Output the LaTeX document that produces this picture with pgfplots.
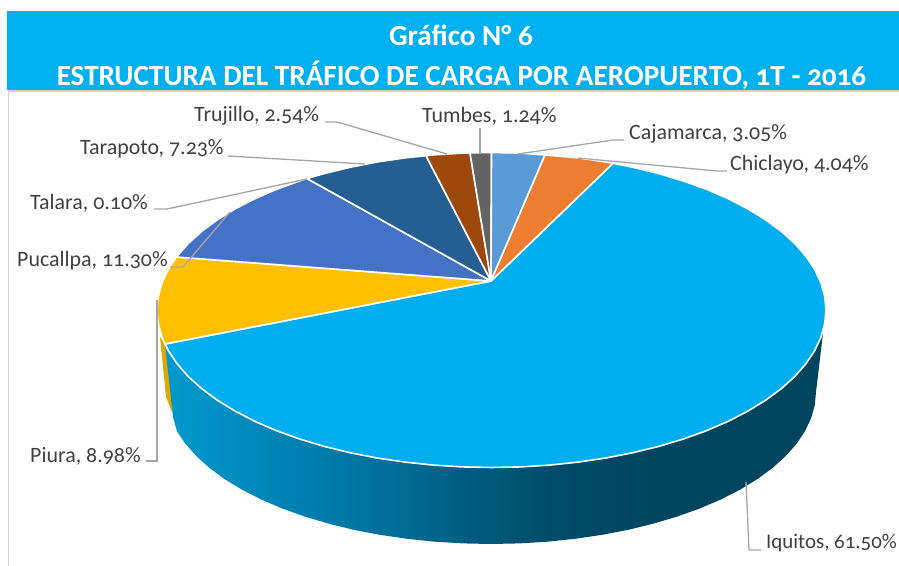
\documentclass[border=0pt]{standalone}
\usepackage{fontspec}
\setmainfont[Numbers=OldStyle]{Carlito}
\usepackage{pgfplots}
\pgfplotsset{compat=1.18}
\definecolor{Banner}{HTML}{00B0F0}
\definecolor{Leader}{HTML}{A6A6A6}
\definecolor{Lbl}{HTML}{404040}
\definecolor{Iquitos}{HTML}{00AEEF}
\definecolor{Cajamarca}{HTML}{5B9BD5}
\definecolor{Chiclayo}{HTML}{ED7D31}
\definecolor{Piura}{HTML}{FFC000}
\definecolor{PiuraSide}{HTML}{E0A800}
\definecolor{Pucallpa}{HTML}{4472C4}
\definecolor{Tarapoto}{HTML}{255E91}
\definecolor{Trujillo}{HTML}{9E480E}
\definecolor{Tumbes}{HTML}{636363}
\pgfdeclarehorizontalshading{wall}{100bp}{rgb(0bp)=(0,0.6,0.8); rgb(25bp)=(0,0.6,0.8); rgb(35.3bp)=(0,0.5,0.69); rgb(42.9bp)=(0,0.424,0.584); rgb(50.5bp)=(0,0.333,0.459); rgb(54.3bp)=(0,0.298,0.42); rgb(61.9bp)=(0,0.27,0.376); rgb(100bp)=(0,0.27,0.376)}
\tikzset{
  slice/.style={draw=white,line width=1.6bp,line join=round},
  leader/.style={draw=Leader,line width=1.3bp},
  lab/.style={inner sep=0pt,text=Lbl,font=\fontsize{22}{24}\selectfont},
  ttl/.style={inner sep=0pt,text=white,font=\fontsize{29.3}{32}\selectfont\bfseries}
}
\begin{document}
\begin{tikzpicture}
\useasboundingbox (0,0) rectangle (899bp,566bp);
\begin{axis}[
  at={(0,0)},anchor=south west,
  scale only axis,width=899bp,height=566bp,
  xmin=0,xmax=899,ymin=0,ymax=566,y dir=reverse,
  hide axis,clip=false
]
% banner and frame
\addplot[draw=none,fill=Banner] coordinates {(7,11) (899,11) (899,90) (7,90)} -- cycle;
\addplot[draw=black!18,line width=1.2bp] coordinates {(8.5,566) (8.5,91) (899,91)};
% side wall
\addplot[draw=none,fill=PiuraSide] coordinates {(160,337) (166,397) (172,412) (175,350) (165,344)} -- cycle;
\addplot[draw=none,shade,shading=wall] coordinates {
  (823,333) (816,392) (814.8,405.2) (811,418.4) (804.9,431.3) (796.4,444) (785.5,456.2) (772.5,468)
  (757.2,479.2) (740,489.7) (720.8,499.5) (699.9,508.4) (677.4,516.5) (653.5,523.6) (628.3,529.8)
  (602.2,534.8) (575.1,538.8) (547.4,541.7) (519.3,543.4) (491,544) (462.7,543.4) (434.6,541.7)
  (406.9,538.8) (379.8,534.8) (353.7,529.8) (328.5,523.6) (304.6,516.5) (282.1,508.4) (261.2,499.5)
  (242,489.7) (224.8,479.2) (209.5,468) (196.5,456.2) (185.6,444) (177,431.3) (173,417)
  (165,344) (300,380) (491,400) (700,400)} -- cycle;
% top slices
\addplot[slice,fill=Iquitos] coordinates {
  (491,281) (613,163.3) (632.9,167.3) (658.8,173.6) (683.4,181) (706.5,189.3) (728,198.6)
  (747.7,208.8) (765.5,219.7) (781.2,231.25) (794.7,243.4) (805.8,256.1) (814.6,269.2)
  (820.9,282.7) (824.7,296.3) (826,310) (824.7,323.7) (820.9,337.3) (814.6,350.8) (805.8,363.9)
  (794.7,376.6) (781.2,388.75) (765.5,400.3) (747.7,411.2) (728,421.4) (706.5,430.7) (683.4,439)
  (658.8,446.4) (632.9,452.7) (605.9,458) (578.1,462.1) (549.6,465.1) (520.7,466.9) (491.5,467.5)
  (462.3,466.9) (433.4,465.1) (404.9,462.1) (377.1,458) (350.1,452.7) (324.2,446.4) (299.6,439)
  (276.5,430.7) (255,421.4) (235.3,411.2) (217.5,400.3) (201.8,388.75) (188.3,376.6) (177.2,363.9)
  (168.4,350.8) (165,344)} -- cycle;
\addplot[slice,fill=Piura] coordinates {
  (491,281) (165,344) (162.1,337.3) (158.3,323.7) (157,310) (158.3,296.3) (162.1,282.7)
  (168.4,269.2) (176.5,257)} -- cycle;
\addplot[slice,fill=Pucallpa] coordinates {
  (491,281) (176.5,257) (188.3,243.4) (201.8,231.25) (217.5,219.7) (235.3,208.8) (255,198.6)
  (276.5,189.3) (299.6,181) (307,178.5)} -- cycle;
\addplot[slice,fill=Tarapoto] coordinates {
  (491,281) (307,178.5) (324.2,173.6) (350.1,167.3) (377.1,162) (404.9,157.9) (426,155.7)} -- cycle;
\addplot[slice,fill=Trujillo] coordinates {
  (491,281) (426,155.7) (433.4,154.9) (462.3,153.1) (470,152.9)} -- cycle;
\addplot[slice,fill=Tumbes] coordinates {(491,281) (470,152.9) (491.5,152.5)} -- cycle;
\addplot[slice,fill=Cajamarca] coordinates {(491,281) (491.5,152.5) (520.7,153.1) (545,155)} -- cycle;
\addplot[slice,fill=Chiclayo] coordinates {(491,281) (545,155) (578.1,157.9) (605.9,162) (613,163.3)} -- cycle;
% leader lines
\addplot[leader] coordinates {(325,122) (337,122) (447,154)};
\addplot[leader] coordinates {(228,156) (365,164)};
\addplot[leader] coordinates {(154,209) (167,209) (307,179)};
\addplot[leader] coordinates {(170,267) (183,267) (230,212)};
\addplot[leader] coordinates {(146,461) (157,461) (157,300)};
\addplot[leader] coordinates {(761,550) (749,550) (746,482)};
\addplot[leader] coordinates {(480,128) (480,154)};
\addplot[leader] coordinates {(624,140) (613,140) (518,154)};
\addplot[leader] coordinates {(727,171) (717,171) (578,158)};
% labels
\node[lab,anchor=west] at (axis cs:194,116) {Trujillo, 2.54\%};
\node[lab,anchor=west] at (axis cs:80,149) {Tarapoto, 7.23\%};
\node[lab,anchor=west] at (axis cs:30,203) {Talara, 0.10\%};
\node[lab,anchor=west] at (axis cs:17,261) {Pucallpa, 11.30\%};
\node[lab,anchor=west] at (axis cs:30,456) {Piura, 8.98\%};
\node[lab,anchor=west,font=\fontsize{21}{24}\selectfont] at (axis cs:766,543) {Iquitos, 61.50\%};
\node[lab,anchor=west] at (axis cs:422,116) {Tumbes, 1.24\%};
\node[lab,anchor=west] at (axis cs:629,134) {Cajamarca, 3.05\%};
\node[lab,anchor=west] at (axis cs:730,165) {Chiclayo, 4.04\%};
% title
\node[ttl] at (axis cs:461,35.5) {Gráfico N° 6};
\node[ttl] at (axis cs:461.5,75.5) {ESTRUCTURA DEL TRÁFICO DE CARGA POR AEROPUERTO, 1T - 2016};
\end{axis}
\end{tikzpicture}
\end{document}
